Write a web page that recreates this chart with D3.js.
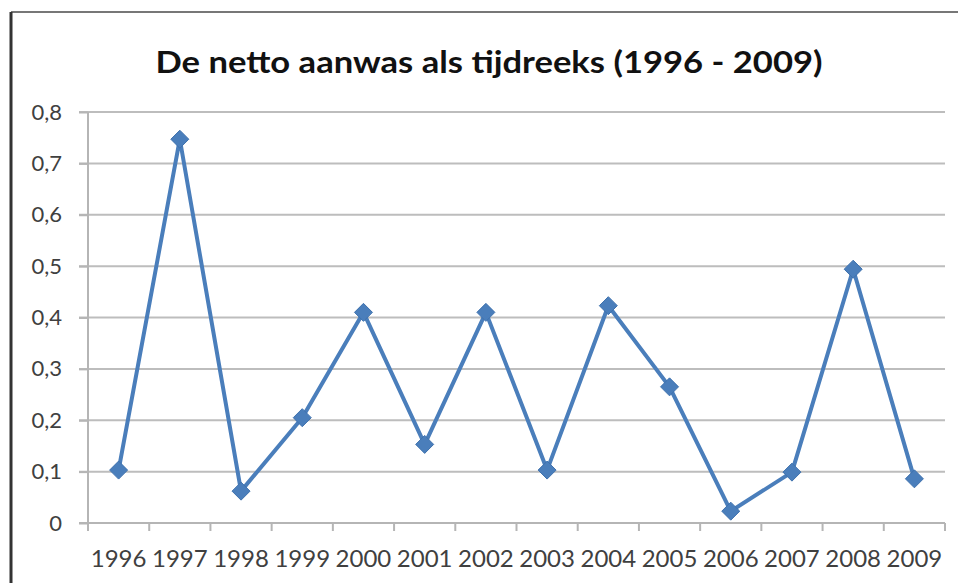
<!DOCTYPE html>
<html>
<head>
<meta charset="utf-8">
<script src="https://cdn.jsdelivr.net/npm/d3@7"></script>
<style>
  html, body { margin: 0; padding: 0; background: #fff; }
  svg { display: block; }
</style>
</head>
<body>
<svg id="chart" width="965" height="583"></svg>
<script>
// Net accretion per year, 1996–2009
const years = ["1996","1997","1998","1999","2000","2001","2002","2003","2004","2005","2006","2007","2008","2009"];
const values = [0.103, 0.747, 0.062, 0.205, 0.41, 0.153, 0.41, 0.103, 0.423, 0.265, 0.023, 0.099, 0.494, 0.086];
const yTicks = [0, 0.1, 0.2, 0.3, 0.4, 0.5, 0.6, 0.7, 0.8];
const titleText = "De netto aanwas als tijdreeks (1996 - 2009)";

const svg = d3.select("#chart");
const font = "Lato, 'Open Sans', sans-serif";

// frame around the chart area
svg.append("line").attr("x1", 11).attr("x2", 958).attr("y1", 12).attr("y2", 12)
  .attr("stroke", "#777").attr("stroke-width", 2);
svg.append("line").attr("x1", 11).attr("x2", 11).attr("y1", 12).attr("y2", 583)
  .attr("stroke", "#333").attr("stroke-width", 3);

const plot = { left: 88, right: 945, top: 112, bottom: 523 };

const x = d3.scaleBand().domain(years).range([plot.left, plot.right]).paddingInner(0).paddingOuter(0);
const y = d3.scaleLinear().domain([0, 0.8]).range([plot.bottom, plot.top]);

// horizontal gridlines with outward tick stubs
svg.append("g").selectAll("line").data(yTicks.filter(d => d > 0)).join("line")
  .attr("x1", plot.left - 9).attr("x2", plot.right)
  .attr("y1", d => y(d)).attr("y2", d => y(d))
  .attr("stroke", "#bdbdbd").attr("stroke-width", 2);

// y axis
const yAxis = svg.append("g").attr("transform", `translate(${plot.left},0)`)
  .call(d3.axisLeft(y).tickValues(yTicks).tickSize(9).tickPadding(17)
    .tickFormat(d => d3.format(".1f")(d).replace(".", ",").replace(/^0,0$/, "0")));
yAxis.select(".domain").attr("stroke", "#b5b5b5").attr("stroke-width", 2).attr("d", `M-9,${plot.bottom}H0V${plot.top}`);
yAxis.selectAll(".tick line").attr("stroke", "#b5b5b5").attr("stroke-width", 2);
yAxis.selectAll("text").attr("font-family", font).attr("font-size", 22).attr("fill", "#404040");

// x axis with ticks on category boundaries
const xAxisG = svg.append("g").attr("transform", `translate(0,${plot.bottom})`);
xAxisG.append("line").attr("x1", plot.left - 9).attr("x2", plot.right)
  .attr("stroke", "#b5b5b5").attr("stroke-width", 2);
const bounds = years.map(d => x(d) + x.bandwidth()).concat([plot.left]);
xAxisG.selectAll("line.tk").data(bounds).join("line").attr("class", "tk")
  .attr("x1", d => d).attr("x2", d => d).attr("y1", 0).attr("y2", 8)
  .attr("stroke", "#b5b5b5").attr("stroke-width", 2);
xAxisG.selectAll("text").data(years).join("text")
  .attr("x", d => x(d) + x.bandwidth() / 2).attr("y", 44)
  .attr("text-anchor", "middle").attr("font-family", font).attr("font-size", 24)
  .attr("fill", "#404040").text(d => d);

// series line
const cx = d => x(d) + x.bandwidth() / 2;
const line = d3.line().x((d, i) => cx(years[i])).y(d => y(d));
svg.append("path").datum(values).attr("d", line)
  .attr("fill", "none").attr("stroke", "#4a7ebb").attr("stroke-width", 4)
  .attr("stroke-linejoin", "round");

// diamond markers
svg.append("g").selectAll("path").data(values).join("path")
  .attr("transform", (d, i) => `translate(${cx(years[i])},${y(d)})`)
  .attr("d", "M0,-9L9,0L0,9L-9,0Z")
  .attr("fill", "#4a7ebb").attr("stroke", "#3f72ae").attr("stroke-width", 1);

// title
svg.append("text").attr("x", 489).attr("y", 73).attr("text-anchor", "middle")
  .attr("font-family", font).attr("font-size", 30).attr("font-weight", 700)
  .attr("fill", "#111").attr("textLength", 667).attr("lengthAdjust", "spacingAndGlyphs")
  .text(titleText);
</script>
</body>
</html>
